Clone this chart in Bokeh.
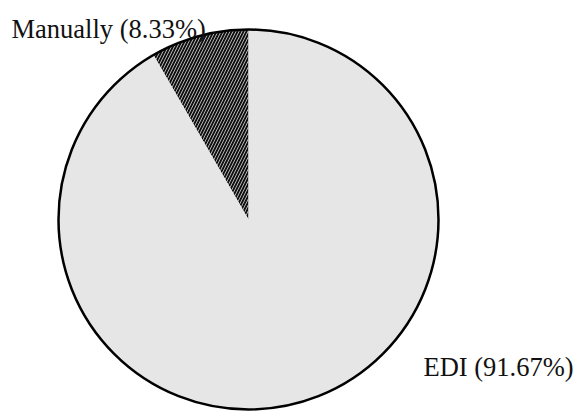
import math
from bokeh.plotting import figure
from bokeh.models import Range1d, ColumnDataSource
from bokeh.core.properties import value
from bokeh.embed import file_html
from bokeh.resources import INLINE

# data
categories = ["Manually", "EDI"]
shares = [8.33, 91.67]
labels = ["Manually (8.33%)", "EDI (91.67%)"]

W, H = 574, 412
p = figure(width=W, height=H, output_backend="svg", toolbar_location=None,
           x_range=Range1d(0, W), y_range=Range1d(0, H), min_border=0)
p.axis.visible = False
p.grid.visible = False
p.outline_line_color = None
p.background_fill_color = "white"
p.border_fill_color = "white"

cx, cy, r = 248, H - 219, 190

total = sum(shares)
starts, ends = [], []
a = math.pi / 2
for s in shares:
    starts.append(a)
    a += s / total * 2 * math.pi
    ends.append(a)

fills = ["#111111", "#e6e6e6"]
hatches = ["/", " "]
src = ColumnDataSource(dict(cat=categories, start=starts, end=ends, fill=fills, hatch=hatches))
p.wedge(x=cx, y=cy, radius=r, start_angle="start", end_angle="end", source=src,
        fill_color="fill", line_color=None, hatch_pattern="hatch",
        hatch_color="#dddddd", hatch_scale=6, hatch_weight=0.8)

p.circle(x=[cx], y=[cy], radius=r, fill_color=None, line_color="black", line_width=2.5)

# labels
lx = [11, 423]
ly = [H - 28, H - 366]
p.text(x=lx, y=ly, text=labels, text_font=value("Liberation Serif"),
       text_font_size="26.5px", text_baseline="alphabetic", text_align="left",
       text_color="#111111")

open("out.html", "w").write(file_html(p, INLINE))
